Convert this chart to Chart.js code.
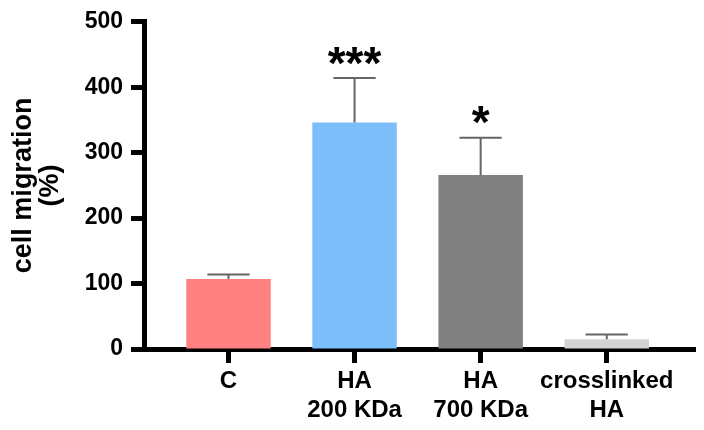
<!DOCTYPE html>
<html>
<head>
<meta charset="utf-8">
<script src="https://cdn.jsdelivr.net/npm/chart.js@4"></script>
<style>
  html, body { margin: 0; padding: 0; background: #ffffff; }
  #wrap { width: 704px; height: 430px; position: relative; }
</style>
</head>
<body>
<div id="wrap"><canvas id="c" width="704" height="430"></canvas></div>
<script>
// ---- data ----
const categories = [["C"], ["HA", "200 KDa"], ["HA", "700 KDa"], ["crosslinked", "HA"]];
const meanValues = [107, 346, 266, 15];
const errorValues = [7, 68, 57, 7];
const significance = ["", "***", "*", ""];
const barColors = ["#FF8080", "#7BBEF9", "#808080", "#D3D3D3"];
const yTicks = [0, 100, 200, 300, 400, 500];
const yTitle = ["cell migration", "(%)"];

const FONT = "'Liberation Sans', Arial, Helvetica, sans-serif";

const errorBarPlugin = {
  id: 'errorBars',
  afterDatasetsDraw(chart) {
    const ctx = chart.ctx;
    const meta = chart.getDatasetMeta(0);
    const yScale = chart.scales.y;
    ctx.save();
    meta.data.forEach((bar, i) => {
      const props = bar.getProps(['x', 'y', 'width'], true);
      const top = yScale.getPixelForValue(meanValues[i] + errorValues[i]);
      const half = props.width / 4;
      ctx.strokeStyle = '#666666';
      ctx.lineWidth = 2;
      ctx.beginPath();
      ctx.moveTo(props.x, props.y);
      ctx.lineTo(props.x, top);
      ctx.moveTo(props.x - half, top);
      ctx.lineTo(props.x + half, top);
      ctx.stroke();
      const s = significance[i];
      if (s) {
        ctx.font = "bold 46px " + FONT;
        ctx.fillStyle = '#000000';
        ctx.textAlign = 'center';
        ctx.textBaseline = 'alphabetic';
        const m = ctx.measureText(s);
        const center = top - 22.5;
        const base = center + (m.actualBoundingBoxAscent - m.actualBoundingBoxDescent) / 2;
        ctx.fillText(s, props.x, base);
      }
    });
    ctx.restore();
  }
};

new Chart(document.getElementById('c'), {
  type: 'bar',
  data: {
    datasets: [{
      data: meanValues.map((v, i) => ({ x: i, y: v })),
      backgroundColor: barColors,
      borderWidth: 0,
      categoryPercentage: 1,
      barPercentage: 0.67
    }]
  },
  options: {
    responsive: false,
    devicePixelRatio: 1,
    animation: false,
    layout: { padding: { left: 0, right: 9, top: 21, bottom: 0 } },
    plugins: { legend: { display: false }, tooltip: { enabled: false } },
    scales: {
      x: {
        type: 'linear',
        min: -0.67,
        max: 3.7,
        offset: false,
        z: 1,
        afterFit(scale) { scale.height = 81; },
        border: { display: true, color: '#000000', width: 5 },
        grid: { display: true, offset: false, drawOnChartArea: false, drawTicks: true, tickLength: 14, tickWidth: 5, tickColor: '#000000' },
        ticks: {
          stepSize: 1,
          includeBounds: false,
          autoSkip: false,
          maxRotation: 0,
          minRotation: 0,
          padding: 4,
          color: '#000000',
          font: { family: FONT, size: 24, weight: 'bold', lineHeight: 1.2 },
          callback: (v) => (Number.isInteger(v) && categories[v]) ? categories[v] : ''
        }
      },
      y: {
        min: yTicks[0],
        max: yTicks[yTicks.length - 1],
        z: 1,
        afterFit(scale) { scale.width = 144; },
        afterBuildTicks(scale) { scale.ticks = yTicks.map(v => ({ value: v })); },
        border: { display: true, color: '#000000', width: 5 },
        grid: { display: true, drawOnChartArea: false, drawTicks: true, tickLength: 13, tickWidth: 5, tickColor: '#000000' },
        ticks: {
          padding: 8,
          color: '#000000',
          font: { family: FONT, size: 23, weight: 'bold' }
        },
        title: {
          display: true,
          text: yTitle,
          color: '#000000',
          padding: { top: 10.5, bottom: 0 },
          font: { family: FONT, size: 27, weight: 'bold', lineHeight: 1.0 }
        }
      }
    }
  },
  plugins: [errorBarPlugin]
});
</script>
</body>
</html>
